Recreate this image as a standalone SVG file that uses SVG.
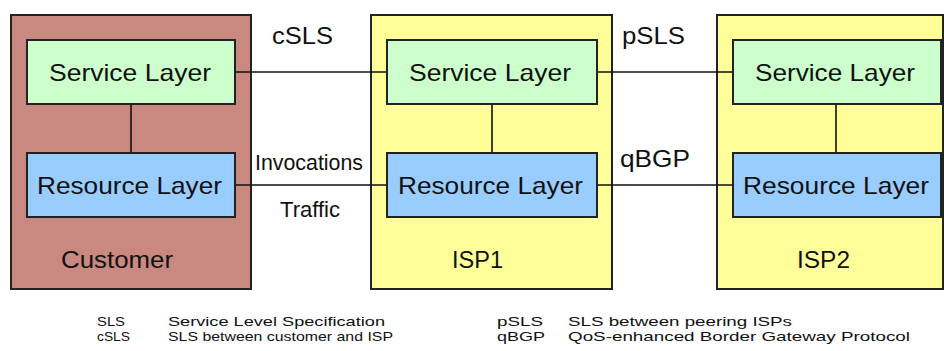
<svg xmlns="http://www.w3.org/2000/svg" width="944" height="351" viewBox="0 0 944 351">
<style>
.org{stroke:#222;stroke-width:2}
.cust{fill:#c98880}
.isp{fill:#ffff99}
.svc{fill:#ccffcc;stroke:#222;stroke-width:2}
.res{fill:#99ccff;stroke:#222;stroke-width:2}
.t{font-family:"Liberation Sans",Arial,sans-serif;fill:#111;text-anchor:middle}
.big{font-size:24px}
.mid{font-size:22px}
.leg{font-family:"Liberation Sans",Arial,sans-serif;font-size:13px;fill:#111}
.ln{stroke:#111;stroke-width:1.6;fill:none}
</style>
<rect width="944" height="351" fill="#ffffff"/>
<g id="customer">
<rect class="org cust" x="11" y="15" width="240" height="274"/>
<text class="t big" x="117" y="268" textLength="112" lengthAdjust="spacingAndGlyphs">Customer</text>
</g>
<g id="isp1">
<rect class="org isp" x="371" y="15" width="241" height="274"/>
<text class="t big" x="477.5" y="268" textLength="51" lengthAdjust="spacingAndGlyphs">ISP1</text>
</g>
<g id="isp2">
<rect class="org isp" x="717" y="15" width="226" height="274"/>
<text class="t big" x="823.5" y="268" textLength="53" lengthAdjust="spacingAndGlyphs">ISP2</text>
</g>
<g id="connectors">
<line class="ln" x1="131" y1="104" x2="131" y2="153"/>
<line class="ln" x1="492" y1="104" x2="492" y2="153"/>
<line class="ln" x1="836" y1="104" x2="836" y2="153"/>
<line class="ln" x1="235" y1="72" x2="387" y2="72"/>
<line class="ln" x1="235" y1="185" x2="387" y2="185"/>
<line class="ln" x1="597" y1="72" x2="733" y2="72"/>
<line class="ln" x1="597" y1="185" x2="733" y2="185"/>
<text class="t big" x="302.5" y="44" textLength="61" lengthAdjust="spacingAndGlyphs">cSLS</text>
<text class="t mid" x="309" y="170" textLength="108" lengthAdjust="spacingAndGlyphs">Invocations</text>
<text class="t mid" x="310" y="217" textLength="60" lengthAdjust="spacingAndGlyphs">Traffic</text>
<text class="t big" x="653.5" y="44" textLength="63" lengthAdjust="spacingAndGlyphs">pSLS</text>
<text class="t big" x="655" y="167" textLength="70" lengthAdjust="spacingAndGlyphs">qBGP</text>
</g>
<g id="cust-service">
<rect class="svc" x="27" y="40" width="208" height="64"/>
<text class="t big" x="130" y="81" textLength="162" lengthAdjust="spacingAndGlyphs">Service Layer</text>
</g>
<g id="cust-resource">
<rect class="res" x="27" y="153" width="208" height="64"/>
<text class="t big" x="129.5" y="194" textLength="185" lengthAdjust="spacingAndGlyphs">Resource Layer</text>
</g>
<g id="isp1-service">
<rect class="svc" x="387" y="40" width="210" height="64"/>
<text class="t big" x="490" y="81" textLength="162" lengthAdjust="spacingAndGlyphs">Service Layer</text>
</g>
<g id="isp1-resource">
<rect class="res" x="387" y="153" width="210" height="64"/>
<text class="t big" x="490.5" y="194" textLength="185" lengthAdjust="spacingAndGlyphs">Resource Layer</text>
</g>
<g id="isp2-service">
<rect class="svc" x="733" y="40" width="208" height="64"/>
<text class="t big" x="835" y="81" textLength="160" lengthAdjust="spacingAndGlyphs">Service Layer</text>
</g>
<g id="isp2-resource">
<rect class="res" x="733" y="153" width="208" height="64"/>
<text class="t big" x="836" y="194" textLength="186" lengthAdjust="spacingAndGlyphs">Resource Layer</text>
</g>
<g id="legend">
<text class="leg" x="97" y="326" textLength="28" lengthAdjust="spacingAndGlyphs">SLS</text>
<text class="leg" x="168" y="326" textLength="217" lengthAdjust="spacingAndGlyphs">Service Level Specification</text>
<text class="leg" x="97" y="341" textLength="33" lengthAdjust="spacingAndGlyphs">cSLS</text>
<text class="leg" x="168" y="341" textLength="225" lengthAdjust="spacingAndGlyphs">SLS between customer and ISP</text>
<text class="leg" x="497" y="326" textLength="46" lengthAdjust="spacingAndGlyphs">pSLS</text>
<text class="leg" x="568" y="326" textLength="224" lengthAdjust="spacingAndGlyphs">SLS between peering ISPs</text>
<text class="leg" x="497" y="341" textLength="48" lengthAdjust="spacingAndGlyphs">qBGP</text>
<text class="leg" x="568" y="341" textLength="342" lengthAdjust="spacingAndGlyphs">QoS-enhanced Border Gateway Protocol</text>
</g>
</svg>
